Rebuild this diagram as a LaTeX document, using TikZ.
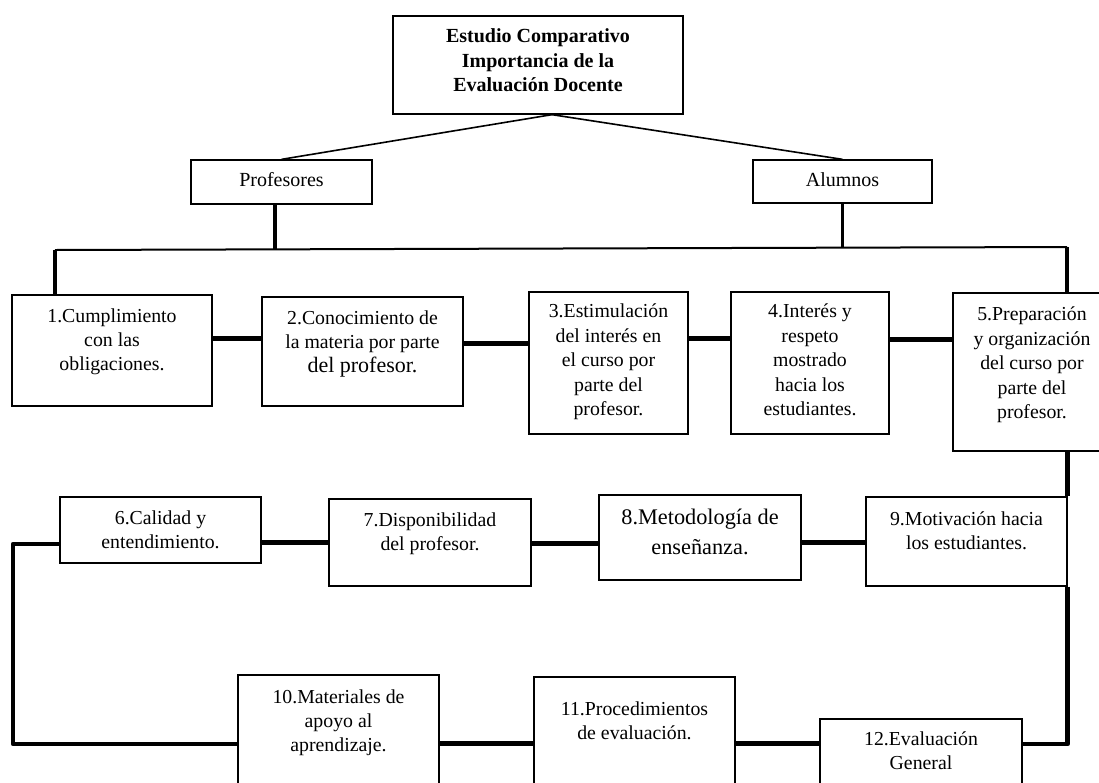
\documentclass[tikz,border=0pt]{standalone}
\usepackage{fontspec}
\setmainfont{Liberation Serif}
\tikzset{
  box/.style={draw, line width=1.3pt, inner sep=0pt},
  txt/.style={inner sep=0pt, align=center, font=\fontsize{19.8}{24}\selectfont},
  thinln/.style={line width=1.6pt},
  barln/.style={line width=2pt},
  vertln/.style={line width=3.4pt},
  conn/.style={line width=5pt},
  loopln/.style={line width=4.6pt, line join=round},
}
% name, x1, y1, x2, y2 (pixels, y down), yshift of text, text
\newcommand\mybox[8][]{%
  \node[box, minimum width={#5-#3}, minimum height={#6-#4}] (#2) at ({(#3+#5)/2},{(#4+#6)/2}) {};
  \node[txt, anchor=north, #1] (#2t) at ([yshift=#7]#2.north) {\strut #8};
}
\begin{document}
\begin{tikzpicture}[x=1pt, y=-1pt]
\useasboundingbox (0,0) rectangle (1099,782);
\fill[white] (0,0) rectangle (1099,782);
\clip (0,0) rectangle (1099,782);

% top
\mybox[font=\fontsize{20}{24.5}\selectfont\bfseries]{T}{393}{16}{683}{114}{-9.85}{Estudio Comparativo\\Importancia de la\\Evaluación Docente}
\mybox[font=\fontsize{20}{24}\selectfont]{P}{191}{160}{372}{204}{-10.2}{Profesores}
\mybox[font=\fontsize{20}{24}\selectfont]{A}{753}{160}{932}{203}{-10.2}{Alumnos}

% row 1
\mybox{b1}{12}{295}{212}{406}{-11.2}{1.Cumplimiento\\con las\\obligaciones.}
\mybox{b2}{262}{297}{463}{406}{-11.2}{2.Conocimiento de\\la materia por parte\\{\fontsize{22}{26}\selectfont del profesor.}}
\mybox[font=\fontsize{19.8}{24.5}\selectfont]{b3}{529}{292}{688}{434}{-8.85}{3.Estimulación\\del interés en\\el curso por\\parte del\\profesor.}
\mybox[font=\fontsize{19.8}{24.5}\selectfont]{b4}{731}{292}{889}{434}{-8.85}{4.Interés y\\respeto\\mostrado\\hacia los\\estudiantes.}
\mybox[font=\fontsize{19.8}{24.5}\selectfont]{b5}{953}{293}{1111}{451}{-10.85}{5.Preparación\\y organización\\del curso por\\parte del\\profesor.}

% row 2
\mybox{b6}{60}{497}{261}{563}{-11.2}{6.Calidad y\\entendimiento.}
\mybox{b7}{329}{499}{531}{586}{-11.2}{7.Disponibilidad\\del profesor.}
\mybox[font=\fontsize{22.3}{30}\selectfont]{b8}{599}{495}{801}{580}{-9}{8.Metodología de\\enseñanza.}
\mybox{b9}{866}{497}{1067}{586}{-12.2}{9.Motivación hacia\\los estudiantes.}

% row 3
\mybox{b10}{238}{675}{439}{800}{-12.2}{10.Materiales de\\apoyo al\\aprendizaje.}
\mybox{b11}{534}{677}{735}{800}{-22.2}{11.Procedimientos\\de evaluación.}
\mybox{b12}{820}{719}{1022}{800}{-10.2}{12.Evaluación\\General}

% top connectors
\draw[thinln] ([xshift=14pt]T.south) -- (P.north);
\draw[thinln] ([xshift=14pt]T.south) -- (A.north);
\coordinate (barL) at (55,250);
\coordinate (barR) at (1067,247);
\coordinate (pv) at (275,250);
\draw[vertln] (P.south -| pv) -- (pv);
\draw[vertln] (A.south) -- (A.south |- barR);
\draw[barln] (barL) -- (barR);
\draw[vertln] (barL) -- (barL |- b1.north);
\draw[vertln] (barR) -- (barR |- b5.north);

% row 1 connectors
\draw[conn] (b1.east |- 0,338) -- (b2.west |- 0,338);
\draw[conn] (b2.east |- 0,343) -- (b3.west |- 0,343);
\draw[conn] (b3.east |- 0,338) -- (b4.west |- 0,338);
\draw[conn] (b4.east |- 0,339) -- (b5.west |- 0,339);

% row 1 -> row 2
\draw[loopln] (b9.north east |- b5.south) -- (b9.north east);

% row 2 connectors
\draw[conn] (b6.east |- 0,542) -- (b7.west |- 0,542);
\draw[conn] (b7.east |- 0,543) -- (b8.west |- 0,543);
\draw[conn] (b8.east |- 0,542) -- (b9.west |- 0,542);

% loops
\coordinate (L1) at (13,544);
\coordinate (L2) at (13,744);
\draw[loopln] (b6.west |- L1) -- (L1) -- (L2) -- (b10.west |- L2);
\coordinate (R1) at (1066,744);
\draw[loopln] (b9.south east) -- (b9.south east |- R1) -- (b12.east |- R1);

% row 3 connectors
\draw[conn] (b10.east |- 0,743) -- (b11.west |- 0,743);
\draw[conn] (b11.east |- 0,743) -- (b12.west |- 0,743);
\end{tikzpicture}
\end{document}
